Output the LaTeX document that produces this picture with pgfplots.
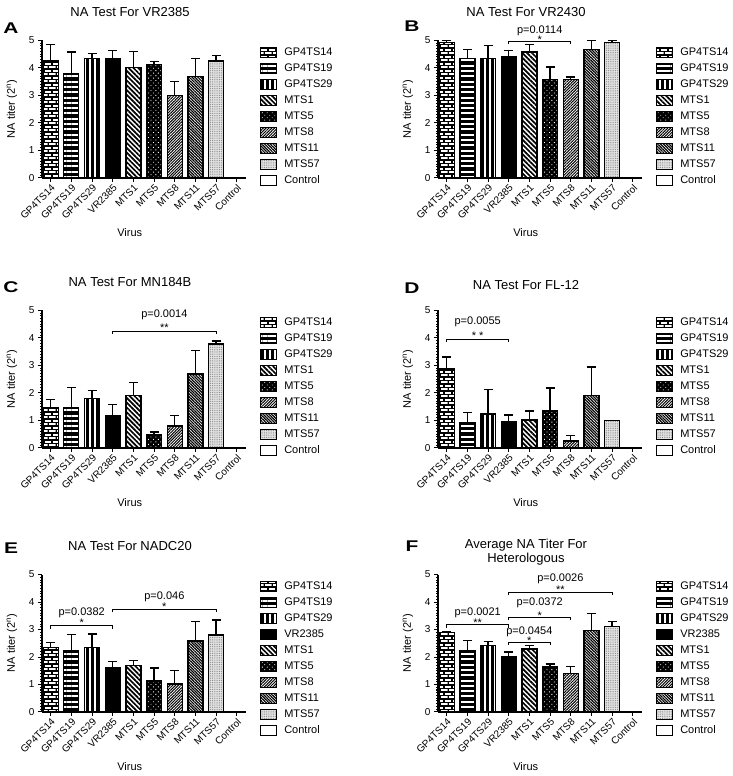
\documentclass[border=0pt]{standalone}
\usepackage{pgfplots}
\pgfplotsset{compat=1.18}
\usepackage{fontspec}
\setmainfont{Liberation Sans}
\usetikzlibrary{patterns,patterns.meta}

\pgfdeclarepattern{
  name=mybricks, type=uncolored,
  bottom left={\pgfpoint{-0.5pt}{-0.5pt}},
  top right={\pgfpoint{8.5pt}{7.5pt}},
  tile size={\pgfpoint{8pt}{7pt}},
  code={
    \pgfsetlinewidth{1.1pt}
    \pgfpathmoveto{\pgfpoint{-0.5pt}{0pt}}\pgfpathlineto{\pgfpoint{8.5pt}{0pt}}
    \pgfpathmoveto{\pgfpoint{-0.5pt}{3.5pt}}\pgfpathlineto{\pgfpoint{8.5pt}{3.5pt}}
    \pgfpathmoveto{\pgfpoint{0pt}{0pt}}\pgfpathlineto{\pgfpoint{0pt}{3.5pt}}
    \pgfpathmoveto{\pgfpoint{4pt}{3.5pt}}\pgfpathlineto{\pgfpoint{4pt}{7pt}}
    \pgfusepath{stroke}
  }
}

\pgfplotsset{
  f0/.style={fill=white, postaction={pattern=mybricks, pattern color=black}},
  f1/.style={fill=black, postaction={pattern={Lines[angle=0, distance=5.3pt, line width=2pt]}, pattern color=white}},
  f2/.style={fill=black, postaction={pattern={Lines[angle=90, distance=5pt, line width=2.2pt]}, pattern color=white}},
  f3/.style={fill=black},
  f4/.style={fill=white, postaction={pattern={Lines[angle=-45, distance=3.4pt, line width=1.7pt]}, pattern color=black}},
  f5/.style={fill=black, postaction={pattern={Dots[distance=3.5pt, radius=0.6pt, angle=45]}, pattern color=white}},
  f6/.style={fill=white, postaction={pattern={Lines[angle=45, distance=2pt, line width=1pt]}, pattern color=black}},
  f7/.style={fill=white, postaction={pattern={Lines[angle=-45, distance=2pt, line width=1.2pt]}, pattern color=black}},
  f8/.style={fill=gray!20, postaction={pattern={Dots[distance=1.8pt, radius=0.5pt]}, pattern color=gray}},
  f9/.style={fill=white},
  bb/.style={ybar, bar width=15pt, bar shift=0pt, draw=black, line width=1.3pt, forget plot},
  li/.style={draw=black, line width=1.1pt},
  panel/.style={
    scale only axis, width=204pt, height=137.5pt, anchor=south west,
    xmin=-0.42, xmax=9.45, ymin=0, ymax=5,
    axis lines=left, axis line style={-, line width=1.4pt},
    xtick={0,...,9},
    xticklabels={GP4TS14,GP4TS19,GP4TS29,VR2385,MTS1,MTS5,MTS8,MTS11,MTS57,Control},
    ytick={0,...,5}, minor y tick num=9,
    tick align=outside, major tick length=4pt, minor tick length=2pt,
    tick style={line width=1pt, black},
    xticklabel style={rotate=45, anchor=north east, font=\fontsize{10}{12}\selectfont, inner sep=1pt},
    yticklabel style={font=\fontsize{10}{12}\selectfont},
    /pgf/number format/assume math mode=true,
    xlabel={Virus}, ylabel={NA titer (2\textsuperscript{n})},
    label style={font=\fontsize{11}{13}\selectfont},
    xlabel style={at={(axis description cs:0.43,0)}, anchor=center, yshift=-55pt},
    ylabel style={at={(axis description cs:-0.147,0.5)}, anchor=center},
    clip=false,
    error bars/y dir=plus, error bars/y explicit,
    error bars/error mark=-,
    error bars/error bar style={line width=1.3pt, black},
    error bars/error mark options={rotate=90, line width=1.3pt, black, mark size=4.5pt},
    legend image code/.code={\draw[##1] (0pt,-5pt) rectangle (16pt,5pt);},
    legend style={draw=none, fill=none, at={(1,1)}, anchor=north west, xshift=14pt, yshift=-4pt,
      inner sep=0pt, row sep=0pt, font=\fontsize{11}{13}\selectfont,
      nodes={inner xsep=0pt, inner ysep=2.75pt, text height=8pt, text depth=2.5pt},
      /tikz/every odd column/.append style={column sep=7pt}},
    legend cell align=left,
  }
}

\newcommand{\sig}[7]{%
  \draw[line width=0.9pt] ([yshift=-3pt]axis cs:#1,#3) -- (axis cs:#1,#3) -- (axis cs:#2,#3) -- ([yshift=-3pt]axis cs:#2,#3);
  \node[font=\fontsize{11}{13}\selectfont] at (axis cs:{(#1+#2)/2},#4) {#6};
  \node[font=\fontsize{11}{13}\selectfont] at ([yshift=-2.5pt]axis cs:{(#1+#2)/2},#5) {#7};
}

\newcommand{\legA}{%
  \addlegendimage{li,f0}\addlegendentry{GP4TS14}
  \addlegendimage{li,f1}\addlegendentry{GP4TS19}
  \addlegendimage{li,f2}\addlegendentry{GP4TS29}
  \addlegendimage{li,f4}\addlegendentry{MTS1}
  \addlegendimage{li,f5}\addlegendentry{MTS5}
  \addlegendimage{li,f6}\addlegendentry{MTS8}
  \addlegendimage{li,f7}\addlegendentry{MTS11}
  \addlegendimage{li,f8}\addlegendentry{MTS57}
  \addlegendimage{li,f9}\addlegendentry{Control}
}
\newcommand{\legB}{%
  \addlegendimage{li,f0}\addlegendentry{GP4TS14}
  \addlegendimage{li,f1}\addlegendentry{GP4TS19}
  \addlegendimage{li,f2}\addlegendentry{GP4TS29}
  \addlegendimage{li,f3}\addlegendentry{VR2385}
  \addlegendimage{li,f4}\addlegendentry{MTS1}
  \addlegendimage{li,f5}\addlegendentry{MTS5}
  \addlegendimage{li,f6}\addlegendentry{MTS8}
  \addlegendimage{li,f7}\addlegendentry{MTS11}
  \addlegendimage{li,f8}\addlegendentry{MTS57}
  \addlegendimage{li,f9}\addlegendentry{Control}
}

\begin{document}
\begin{tikzpicture}[x=1pt,y=1pt]
\path[use as bounding box] (0,0) rectangle (732,776);

% ---------------- A
\begin{axis}[panel, at={(42pt,598pt)}]
\addplot[bb,f0] coordinates {(0,4.25) +- (0,0.60)};
\addplot[bb,f1] coordinates {(1,3.80) +- (0,0.78)};
\addplot[bb,f2] coordinates {(2,4.34) +- (0,0.19)};
\addplot[bb,f3] coordinates {(3,4.34) +- (0,0.30)};
\addplot[bb,f4] coordinates {(4,4.02) +- (0,0.57)};
\addplot[bb,f5] coordinates {(5,4.13) +- (0,0.11)};
\addplot[bb,f6] coordinates {(6,3.01) +- (0,0.51)};
\addplot[bb,f7] coordinates {(7,3.69) +- (0,0.65)};
\addplot[bb,f8] coordinates {(8,4.25) +- (0,0.20)};
\legA
\end{axis}

% ---------------- B
\begin{axis}[panel, at={(438pt,598pt)}]
\addplot[bb,f0] coordinates {(0,4.92) +- (0,0.08)};
\addplot[bb,f1] coordinates {(1,4.34) +- (0,0.32)};
\addplot[bb,f2] coordinates {(2,4.34) +- (0,0.49)};
\addplot[bb,f3] coordinates {(3,4.42) +- (0,0.22)};
\addplot[bb,f4] coordinates {(4,4.58) +- (0,0.27)};
\addplot[bb,f5] coordinates {(5,3.57) +- (0,0.47)};
\addplot[bb,f6] coordinates {(6,3.57) +- (0,0.10)};
\addplot[bb,f7] coordinates {(7,4.66) +- (0,0.34)};
\addplot[bb,f8] coordinates {(8,4.92) +- (0,0.08)};
\legA
\sig{3}{6}{4.98}{5.36}{5.13}{p=0.0114}{*}
\end{axis}

% ---------------- C
\begin{axis}[panel, at={(42pt,328pt)}]
\addplot[bb,f0] coordinates {(0,1.48) +- (0,0.29)};
\addplot[bb,f1] coordinates {(1,1.48) +- (0,0.72)};
\addplot[bb,f2] coordinates {(2,1.81) +- (0,0.29)};
\addplot[bb,f3] coordinates {(3,1.19) +- (0,0.40)};
\addplot[bb,f4] coordinates {(4,1.92) +- (0,0.47)};
\addplot[bb,f5] coordinates {(5,0.47) +- (0,0.11)};
\addplot[bb,f6] coordinates {(6,0.80) +- (0,0.39)};
\addplot[bb,f7] coordinates {(7,2.69) +- (0,0.86)};
\addplot[bb,f8] coordinates {(8,3.78) +- (0,0.11)};
\legA
\sig{3}{8}{4.25}{4.84}{4.46}{p=0.0014}{**}
\end{axis}

% ---------------- D
\begin{axis}[panel, at={(438pt,328pt)}]
\addplot[bb,f0] coordinates {(0,2.89) +- (0,0.42)};
\addplot[bb,f1] coordinates {(1,0.92) +- (0,0.38)};
\addplot[bb,f2] coordinates {(2,1.24) +- (0,0.89)};
\addplot[bb,f3] coordinates {(3,0.94) +- (0,0.26)};
\addplot[bb,f4] coordinates {(4,1.02) +- (0,0.33)};
\addplot[bb,f5] coordinates {(5,1.35) +- (0,0.83)};
\addplot[bb,f6] coordinates {(6,0.25) +- (0,0.21)};
\addplot[bb,f7] coordinates {(7,1.90) +- (0,1.05)};
\addplot[bb,f8] coordinates {(8,1.01)};
\legA
\sig{0}{3}{3.95}{4.60}{4.18}{p=0.0055}{* *}
\end{axis}

% ---------------- E
\begin{axis}[panel, at={(42pt,64pt)}]
\addplot[bb,f0] coordinates {(0,2.34) +- (0,0.19)};
\addplot[bb,f1] coordinates {(1,2.23) +- (0,0.58)};
\addplot[bb,f2] coordinates {(2,2.35) +- (0,0.49)};
\addplot[bb,f3] coordinates {(3,1.60) +- (0,0.23)};
\addplot[bb,f4] coordinates {(4,1.69) +- (0,0.18)};
\addplot[bb,f5] coordinates {(5,1.13) +- (0,0.47)};
\addplot[bb,f6] coordinates {(6,1.02) +- (0,0.50)};
\addplot[bb,f7] coordinates {(7,2.58) +- (0,0.70)};
\addplot[bb,f8] coordinates {(8,2.80) +- (0,0.55)};
\legB
\sig{0}{3}{3.14}{3.59}{3.33}{p=0.0382}{*}
\sig{3}{8}{3.73}{4.19}{3.93}{p=0.046}{*}
\end{axis}

% ---------------- F
\begin{axis}[panel, at={(438pt,64pt)}]
\addplot[bb,f0] coordinates {(0,2.89) +- (0,0.04)};
\addplot[bb,f1] coordinates {(1,2.23) +- (0,0.38)};
\addplot[bb,f2] coordinates {(2,2.42) +- (0,0.15)};
\addplot[bb,f3] coordinates {(3,2.02) +- (0,0.16)};
\addplot[bb,f4] coordinates {(4,2.29) +- (0,0.14)};
\addplot[bb,f5] coordinates {(5,1.64) +- (0,0.11)};
\addplot[bb,f6] coordinates {(6,1.40) +- (0,0.26)};
\addplot[bb,f7] coordinates {(7,2.96) +- (0,0.63)};
\addplot[bb,f8] coordinates {(8,3.11) +- (0,0.19)};
\legB
\sig{0}{3}{3.17}{3.59}{3.33}{p=0.0021}{**}
\sig{3}{5}{2.54}{2.93}{2.69}{p=0.0454}{*}
\sig{3}{6}{3.45}{3.98}{3.61}{p=0.0372}{*}
\sig{3}{8}{4.35}{4.83}{4.55}{p=0.0026}{**}
\end{axis}

% titles and panel letters
\begin{scope}[every node/.style={font=\fontsize{13}{14}\selectfont}]
\node at (130,764) {NA Test For VR2385};
\node at (526,764) {NA Test For VR2430};
\node at (130,494) {NA Test For MN184B};
\node at (526,491) {NA Test For FL-12};
\node at (130,230) {NA Test For NADC20};
\node[align=center] at (526,224) {Average NA Titer For\\Heterologous};
\end{scope}
\begin{scope}[every node/.style={font=\fontsize{15.5}{16}\selectfont\bfseries}]
\node at (11,748) {\scalebox{1.35}[1]{A}};
\node at (412,750) {\scalebox{1.35}[1]{B}};
\node at (11,489) {\scalebox{1.35}[1]{C}};
\node at (412,488) {\scalebox{1.35}[1]{D}};
\node at (11,228) {\scalebox{1.35}[1]{E}};
\node at (412,230) {\scalebox{1.35}[1]{F}};
\end{scope}
\end{tikzpicture}
\end{document}
